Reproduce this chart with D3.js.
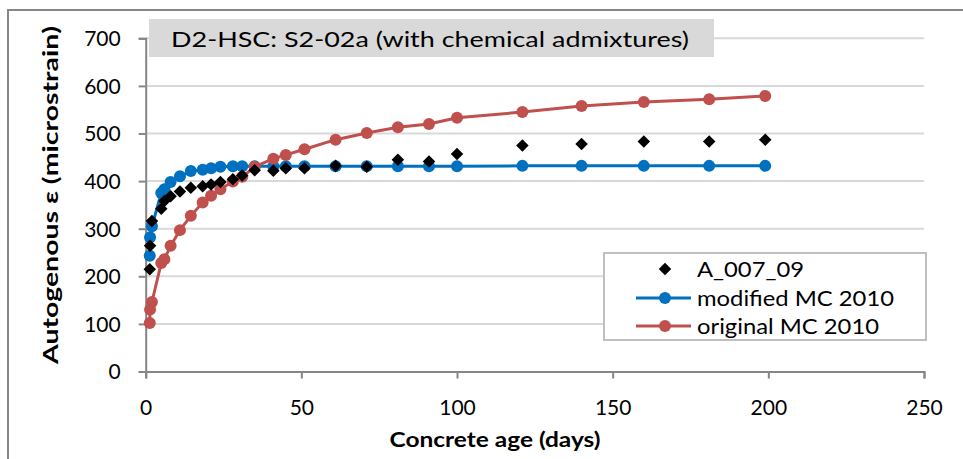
<!DOCTYPE html>
<html>
<head>
<meta charset="utf-8">
<script src="https://cdn.jsdelivr.net/npm/d3@7"></script>
<style>
  html, body { margin: 0; padding: 0; background: #fff; }
  svg { display: block; font-family: Lato, "Noto Sans", sans-serif; }
</style>
</head>
<body>
<svg id="chart" width="963" height="459"></svg>
<script>
// ---- data ----
const days = [1.3, 1.4, 2, 5, 6, 8, 11, 14.5, 18.3, 21, 24, 28, 31, 35, 41, 45, 51, 61, 71, 81, 91, 100, 121, 140, 160, 181, 199];
const measured = [215, 264, 316, 342, 358, 368, 378, 386, 389, 393, 398, 404, 412, 423, 422, 427, 427, 432, 430, 445, 441, 457, 475, 478, 483, 483, 487];
const modifiedMC = [243, 282, 305, 375, 383, 398, 410, 421, 424, 427, 430, 431, 431, 431, 431, 431, 431, 431, 431, 431, 431, 431, 432, 432, 432, 432, 432];
const originalMC = [102, 130, 146, 228, 236, 264, 297, 327, 355, 369, 383, 399, 409, 430, 447, 455, 467, 487, 501, 513, 520, 533, 545, 558, 566, 572, 579];
const xTicks = [0, 50, 100, 150, 200, 250];
const yTicks = [0, 100, 200, 300, 400, 500, 600, 700];
const seriesNames = ["A_007_09", "modified MC 2010", "original MC 2010"];
const titleText = "D2-HSC: S2-02a (with chemical admixtures)";
const xTitle = "Concrete age (days)";
const yTitle = "Autogenous \u03b5  (microstrain)";

const svg = d3.select("#chart");
const x = d3.scaleLinear().domain([0, 250]).range([145.7, 924]);
const y = d3.scaleLinear().domain([0, 700]).range([371.5, 38.3]);

const blue = "#0070C0", red = "#C0504D", axisCol = "#868686", gridCol = "#d9d9d9";

// outer chart border (top and left visible)
svg.append("line").attr("x1", 8).attr("x2", 963).attr("y1", 10).attr("y2", 10)
  .attr("stroke", axisCol).attr("stroke-width", 2);
svg.append("line").attr("x1", 8).attr("x2", 8).attr("y1", 9).attr("y2", 459)
  .attr("stroke", axisCol).attr("stroke-width", 2);

// gridlines
svg.append("g").selectAll("line").data(yTicks.filter(d => d > 0)).join("line")
  .attr("x1", x(0)).attr("x2", x(250))
  .attr("y1", d => y(d)).attr("y2", d => y(d))
  .attr("stroke", gridCol).attr("stroke-width", 2);

// axes
const yAxis = svg.append("g").attr("transform", `translate(${x(0)},0)`)
  .call(d3.axisLeft(y).tickValues(yTicks).tickSize(7).tickPadding(18).tickFormat(d3.format("d")));
const xAxis = svg.append("g").attr("transform", `translate(0,${y(0)})`)
  .call(d3.axisBottom(x).tickValues(xTicks).tickSize(7).tickPadding(22).tickFormat(d3.format("d")));
[yAxis, xAxis].forEach(g => {
  g.select(".domain").attr("stroke", axisCol).attr("stroke-width", 2);
  g.selectAll(".tick line").attr("stroke", axisCol).attr("stroke-width", 2);
  g.selectAll(".tick text").attr("fill", "#000").attr("font-size", 21).attr("font-family", "Lato, 'Noto Sans', sans-serif");
});
yAxis.selectAll(".tick text").attr("dy", "0.35em");

// title box
svg.append("rect").attr("x", 149).attr("y", 19).attr("width", 565).attr("height", 38).attr("fill", "#d9d9d9");
svg.append("text").attr("x", 171).attr("y", 47).attr("font-size", 22)
  .attr("textLength", 518).attr("lengthAdjust", "spacingAndGlyphs").text(titleText);

// axis titles
svg.append("text").attr("x", 495).attr("y", 447).attr("text-anchor", "middle")
  .attr("font-size", 20).attr("font-weight", "bold")
  .attr("textLength", 211).attr("lengthAdjust", "spacingAndGlyphs").text(xTitle);
svg.append("text").attr("transform", "translate(58,195) rotate(-90)").attr("text-anchor", "middle")
  .attr("font-size", 20).attr("font-weight", "bold")
  .attr("textLength", 338).attr("lengthAdjust", "spacingAndGlyphs").text(yTitle);

// series
const pts = (vals) => days.map((d, i) => [d, vals[i]]);
const line = d3.line().x(d => x(d[0])).y(d => y(d[1]));

function drawLineSeries(vals, color) {
  const g = svg.append("g");
  g.append("path").datum(pts(vals)).attr("d", line)
    .attr("fill", "none").attr("stroke", color).attr("stroke-width", 3);
  g.selectAll("circle").data(pts(vals)).join("circle")
    .attr("cx", d => x(d[0])).attr("cy", d => y(d[1])).attr("r", 6).attr("fill", color);
}
drawLineSeries(modifiedMC, blue);
drawLineSeries(originalMC, red);

const diamond = d3.symbol().type(d3.symbolDiamond2).size(100);
svg.append("g").selectAll("path").data(pts(measured)).join("path")
  .attr("transform", d => `translate(${x(d[0])},${y(d[1])})`)
  .attr("d", diamond).attr("fill", "#000");

// legend
const lg = svg.append("g");
lg.append("rect").attr("x", 604).attr("y", 253).attr("width", 322).attr("height", 87)
  .attr("fill", "#fff").attr("stroke", "#bfbfbf").attr("stroke-width", 2);
const rows = [269, 298, 326];
const legendWidths = [107, 197, 182];
lg.append("path").attr("transform", `translate(665,${rows[0]})`).attr("d", diamond).attr("fill", "#000");
[[blue, rows[1]], [red, rows[2]]].forEach(([c, ry]) => {
  lg.append("line").attr("x1", 636).attr("x2", 691).attr("y1", ry).attr("y2", ry)
    .attr("stroke", c).attr("stroke-width", 3);
  lg.append("circle").attr("cx", 665).attr("cy", ry).attr("r", 6).attr("fill", c);
});
lg.selectAll("text").data(seriesNames).join("text")
  .attr("x", 697).attr("y", (d, i) => rows[i] + 7.5).attr("font-size", 22)
  .attr("textLength", (d, i) => legendWidths[i]).attr("lengthAdjust", "spacingAndGlyphs")
  .text(d => d);
</script>
</body>
</html>
